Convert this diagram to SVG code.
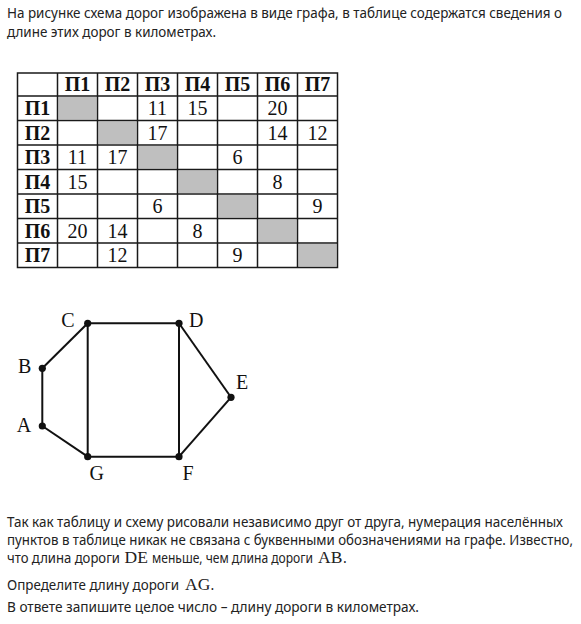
<svg xmlns="http://www.w3.org/2000/svg" width="581" height="624" viewBox="0 0 581 624">
<style>
.t{font-family:"Noto Sans","Open Sans",sans-serif;font-size:14px;fill:#222}
.s{font-family:"Liberation Serif","Times New Roman",serif;font-size:17.5px;fill:#222}
.h{font-family:"Liberation Serif","Times New Roman",serif;font-size:20px;font-weight:bold;fill:#111;text-anchor:middle}
.n{font-family:"Liberation Serif","Times New Roman",serif;font-size:20px;fill:#111;text-anchor:middle}
.g{fill:#bfbfbf}
.ln{stroke:#1a1a1a;stroke-width:1.5;fill:none}
.e{stroke:#111;stroke-width:2;fill:none}
.v{fill:#111}
.lb{font-family:"Liberation Serif","Times New Roman",serif;font-size:20px;fill:#111;text-anchor:middle}
</style>
<rect width="581" height="624" fill="#fff"/>
<g id="intro">
<text class="t" x="7" y="18" textLength="555" lengthAdjust="spacingAndGlyphs">На рисунке схема дорог изображена в виде графа, в таблице содержатся сведения о</text>
<text class="t" x="7" y="37" textLength="209" lengthAdjust="spacingAndGlyphs">длине этих дорог в километрах.</text>
</g>
<g id="table">
<rect class="g" x="58.5" y="97" width="38" height="22.5"/>
<rect class="g" x="98.5" y="121.5" width="38" height="22.5"/>
<rect class="g" x="138.5" y="146" width="38" height="22.5"/>
<rect class="g" x="178.5" y="170.5" width="38" height="22.5"/>
<rect class="g" x="218.5" y="195" width="38" height="22.5"/>
<rect class="g" x="258.5" y="219.5" width="38" height="22.5"/>
<rect class="g" x="298.5" y="244" width="38" height="22.5"/>
<path class="ln" d="M17.5 73H337.5V267.5H17.5Z M57.5 73V267.5 M97.5 73V267.5 M137.5 73V267.5 M177.5 73V267.5 M217.5 73V267.5 M257.5 73V267.5 M297.5 73V267.5 M17.5 96H337.5 M17.5 120.5H337.5 M17.5 145H337.5 M17.5 169.5H337.5 M17.5 194H337.5 M17.5 218.5H337.5 M17.5 243H337.5"/>
<text class="h" x="77.5" y="91">П1</text>
<text class="h" x="117.5" y="91">П2</text>
<text class="h" x="157.5" y="91">П3</text>
<text class="h" x="197.5" y="91">П4</text>
<text class="h" x="237.5" y="91">П5</text>
<text class="h" x="277.5" y="91">П6</text>
<text class="h" x="317.5" y="91">П7</text>
<text class="h" x="37.5" y="115">П1</text>
<text class="h" x="37.5" y="139.5">П2</text>
<text class="h" x="37.5" y="164">П3</text>
<text class="h" x="37.5" y="188.5">П4</text>
<text class="h" x="37.5" y="213">П5</text>
<text class="h" x="37.5" y="237.5">П6</text>
<text class="h" x="37.5" y="262">П7</text>
<text class="n" x="157.5" y="115">11</text>
<text class="n" x="197.5" y="115">15</text>
<text class="n" x="277.5" y="115">20</text>
<text class="n" x="157.5" y="139.5">17</text>
<text class="n" x="277.5" y="139.5">14</text>
<text class="n" x="317.5" y="139.5">12</text>
<text class="n" x="77.5" y="164">11</text>
<text class="n" x="117.5" y="164">17</text>
<text class="n" x="237.5" y="164">6</text>
<text class="n" x="77.5" y="188.5">15</text>
<text class="n" x="277.5" y="188.5">8</text>
<text class="n" x="157.5" y="213">6</text>
<text class="n" x="317.5" y="213">9</text>
<text class="n" x="77.5" y="237.5">20</text>
<text class="n" x="117.5" y="237.5">14</text>
<text class="n" x="197.5" y="237.5">8</text>
<text class="n" x="117.5" y="262">12</text>
<text class="n" x="237.5" y="262">9</text>
</g>
<g id="edges">
<path class="e" d="M42.3 368.3L87.7 323.3"/>
<path class="e" d="M87.7 323.3L179 323.3"/>
<path class="e" d="M179 323.3L231 397.3"/>
<path class="e" d="M231 397.3L179 456.7"/>
<path class="e" d="M179 456.7L87.7 456.7"/>
<path class="e" d="M87.7 456.7L42.3 426"/>
<path class="e" d="M42.3 426L42.3 368.3"/>
<path class="e" d="M87.7 323.3L87.7 456.7"/>
<path class="e" d="M179 323.3L179 456.7"/>
</g>
<g id="node-A"><circle class="v" cx="42.3" cy="426" r="3.6"/><text class="lb" x="24" y="432">A</text></g>
<g id="node-B"><circle class="v" cx="42.3" cy="368.3" r="3.6"/><text class="lb" x="24.7" y="373">B</text></g>
<g id="node-C"><circle class="v" cx="87.7" cy="323.3" r="3.6"/><text class="lb" x="68" y="327">C</text></g>
<g id="node-D"><circle class="v" cx="179" cy="323.3" r="3.6"/><text class="lb" x="196.3" y="327">D</text></g>
<g id="node-E"><circle class="v" cx="231" cy="397.3" r="3.6"/><text class="lb" x="242" y="389">E</text></g>
<g id="node-F"><circle class="v" cx="179" cy="456.7" r="3.6"/><text class="lb" x="188" y="480">F</text></g>
<g id="node-G"><circle class="v" cx="87.7" cy="456.7" r="3.6"/><text class="lb" x="96.7" y="480">G</text></g>
<g id="question">
<text class="t" x="7" y="526.5" textLength="556" lengthAdjust="spacingAndGlyphs">Так как таблицу и схему рисовали независимо друг от друга, нумерация населённых</text>
<text class="t" x="7" y="544.5" textLength="566" lengthAdjust="spacingAndGlyphs">пунктов в таблице никак не связана с буквенными обозначениями на графе. Известно,</text>
<text class="t" x="7" y="563" textLength="113" lengthAdjust="spacingAndGlyphs">что длина дороги</text>
<text class="s" x="124.5" y="563">DE</text>
<text class="t" x="152" y="563" textLength="161" lengthAdjust="spacingAndGlyphs">меньше, чем длина дороги</text>
<text class="s" x="318" y="563">AB</text>
<text class="t" x="343" y="563">.</text>
<text class="t" x="7" y="589.5" textLength="172" lengthAdjust="spacingAndGlyphs">Определите длину дороги</text>
<text class="s" x="185" y="589.5">AG</text>
<text class="t" x="210.5" y="589.5">.</text>
<text class="t" x="7" y="612" textLength="412" lengthAdjust="spacingAndGlyphs">В ответе запишите целое число – длину дороги в километрах.</text>
</g>
</svg>
